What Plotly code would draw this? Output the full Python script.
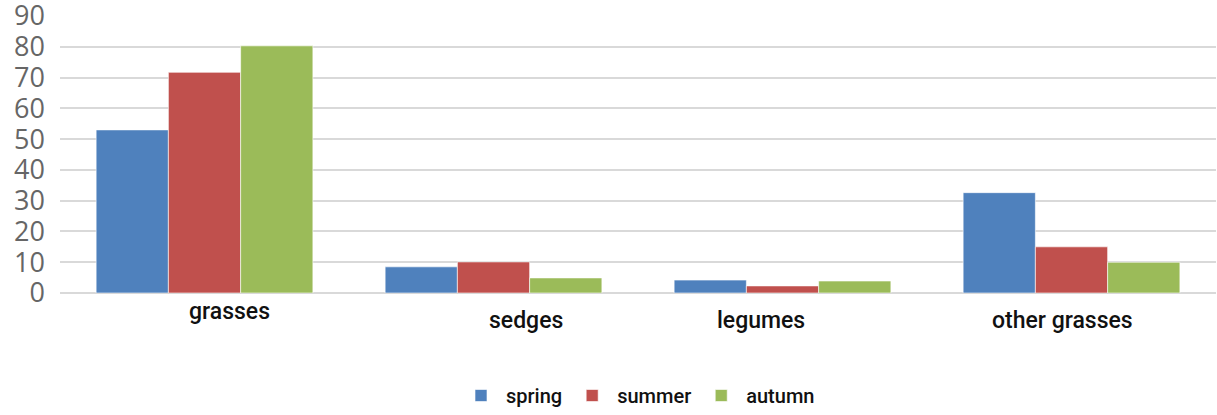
import plotly.graph_objects as go

# Plant groups and their seasonal share values (%)
categories = ["grasses", "sedges", "legumes", "other grasses"]
spring = [53, 8.5, 4.2, 32.6]
summer = [71.7, 10.1, 2.3, 15]
autumn = [80.3, 4.9, 3.9, 10]
y_ticks = [0, 10, 20, 30, 40, 50, 60, 70, 80, 90]

series = [
    ("spring", spring, "#4F81BD"),
    ("summer", summer, "#C0504D"),
    ("autumn", autumn, "#9BBB59"),
]

fig = go.Figure()
for name, vals, color in series:
    fig.add_trace(go.Bar(
        name=name,
        x=categories,
        y=vals,
        marker=dict(color=color, line=dict(color="rgba(255,255,255,0.6)", width=1)),
    ))

# Category labels drawn as annotations so each can be nudged sideways
label_shift = [25, 32, -22, -9]
label_drop = [0, 9, 9, 9]
for cat, dx, dy in zip(categories, label_shift, label_drop):
    fig.add_annotation(
        x=cat, y=0, xref="x", yref="y",
        text=cat, showarrow=False,
        xanchor="center", yanchor="top",
        xshift=dx, yshift=-3 - dy,
        font=dict(family="Roboto", size=23, color="#111111", weight=500),
    )

fig.update_layout(
    width=1217, height=415,
    margin=dict(l=60, r=1, t=16, b=122, autoexpand=False),
    paper_bgcolor="white",
    plot_bgcolor="white",
    barmode="group",
    bargap=0.25,
    bargroupgap=0,
    showlegend=True,
    legend=dict(
        orientation="h",
        x=0.5, xanchor="center",
        yref="container",
        y=0.0, yanchor="bottom",
        font=dict(family="Roboto", size=20, color="#111111", weight=500),
        itemwidth=40,
    ),
    xaxis=dict(showticklabels=False, showgrid=False, zeroline=False,
               showline=False, ticks=""),
    yaxis=dict(
        range=[0, 90],
        tickvals=y_ticks,
        showgrid=True, gridcolor="#D9D9D9", gridwidth=2,
        zeroline=True, zerolinecolor="#D9D9D9", zerolinewidth=2,
        showline=False, ticks="",
        tickfont=dict(family="Open Sans", size=27, color="#666666"),
        ticklabelstandoff=14,
        ticklabeloverflow="allow",
    ),
)

fig.write_html("out.html")
